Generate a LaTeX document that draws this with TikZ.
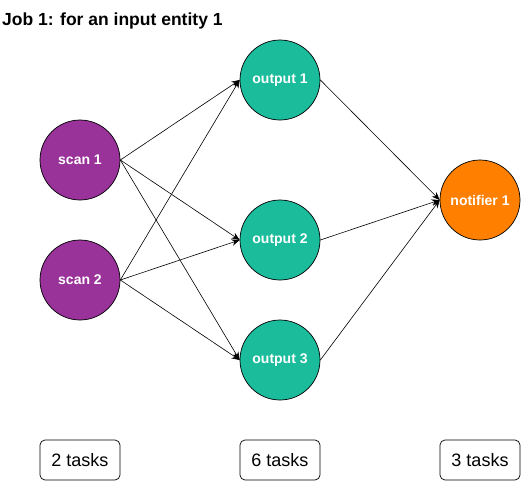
\documentclass[tikz,border=0pt]{standalone}
\usepackage{fontspec}
\setmainfont{Liberation Sans}
\usetikzlibrary{positioning,calc,arrows.meta}

\definecolor{scanpurple}{HTML}{993399}
\definecolor{outteal}{HTML}{1ABC9C}
\definecolor{notiorange}{HTML}{FF8000}

\begin{document}
\begin{tikzpicture}[x=1pt,y=-1pt,
    job/.style={circle,draw=black,line width=0.7pt,minimum size=80pt,inner sep=0pt,
        text=white,font=\fontsize{14}{16}\selectfont\bfseries},
    tasks/.style={draw=black,rounded corners=5pt,line width=0.7pt,minimum width=80pt,
        minimum height=40pt,inner sep=0pt,font=\fontsize{18}{21}\selectfont},
    flow/.style={draw=black,line width=0.6pt,-{Stealth[length=8pt,width=6.5pt]}}]
    \useasboundingbox (0,0) rectangle (521,482);

    % Title
    \node[anchor=west,inner sep=0pt,font=\fontsize{17.5}{20}\selectfont\bfseries] (title) at (2,21) {Job 1: for an input entity 1};

    % Scans
    \node[job,fill=scanpurple] (scan1) at (80,160) {scan 1};
    \node[job,fill=scanpurple] (scan2) at (80,280) {scan 2};

    % Outputs
    \node[job,fill=outteal] (out1) at (280,80) {output 1};
    \node[job,fill=outteal] (out2) at (280,240) {output 2};
    \node[job,fill=outteal] (out3) at (280,360) {output 3};

    % Notifier
    \node[job,fill=notiorange] (noti1) at (480,200) {notifier 1};

    % Task counts
    \node[tasks] (tasks2) at (80,460) {2 tasks};
    \node[tasks] (tasks6) at (280,460) {6 tasks};
    \node[tasks] (tasks3) at (480,460) {3 tasks};

    % Edges
    \foreach \s in {scan1,scan2}
        \foreach \o in {out1,out2,out3}
            \draw[flow] (\s.east) -- (\o.west);
    \foreach \o in {out1,out2,out3}
        \draw[flow] (\o.east) -- (noti1.west);
\end{tikzpicture}
\end{document}
